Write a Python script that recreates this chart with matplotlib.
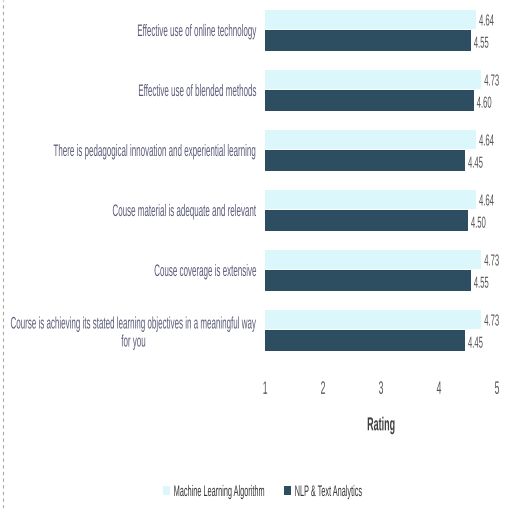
import matplotlib.pyplot as plt
from matplotlib.patheffects import AbstractPathEffect
from matplotlib.transforms import Affine2D
import numpy as np

# survey items, top to bottom
items = [
    "Effective use of online technology",
    "Effective use of blended methods",
    "There is pedagogical innovation and experiential learning",
    "Couse material is adequate and relevant",
    "Couse coverage is extensive",
    "Course is achieving its stated learning objectives in a meaningful way\nfor you",
]
ml_algo = [4.64, 4.73, 4.64, 4.64, 4.73, 4.73]
nlp_text = [4.55, 4.60, 4.45, 4.50, 4.55, 4.45]
ml_labels = ["4.64", "4.73", "4.64", "4.64", "4.73", "4.73"]
nlp_labels = ["4.55", "4.60", "4.45", "4.50", "4.55", "4.45"]
xticks = [1, 2, 3, 4, 5]

light = "#dcf7fb"
dark = "#2c4e60"
plt.rcParams['font.family'] = ['Liberation Sans', 'DejaVu Sans']

SQ = 0.48  # the original font is a very narrow one


class Squeeze(AbstractPathEffect):
    """draw text narrower: mode 'left' / 'center' keeps that edge of each line,
    a number keeps that display x fixed"""
    def __init__(self, sx, mode='left'):
        super().__init__()
        self.sx = sx
        self.mode = mode

    def draw_path(self, renderer, gc, tpath, affine, rgbFace=None):
        if self.mode == 'left':
            t = Affine2D().scale(self.sx, 1) + affine
        elif self.mode == 'center':
            ext = tpath.get_extents()
            cx = (ext.x0 + ext.x1) / 2
            t = Affine2D().translate(-cx, 0).scale(self.sx, 1).translate(cx, 0) + affine
        else:
            X = self.mode
            t = affine + Affine2D().translate(-X, 0).scale(self.sx, 1).translate(X, 0)
        renderer.draw_path(gc, tpath, t, rgbFace)


fig = plt.figure(figsize=(5.06, 5.08), dpi=100)
ax = fig.add_axes([265 / 506, 1 - 360 / 508, 232 / 506, 360 / 508])

y = np.arange(len(items))
ax.barh(y - 0.17, [v - 1 for v in ml_algo], left=1, height=0.32, color=light,
        label="Machine Learning Algorithm")
ax.barh(y + 0.17, [v - 1 for v in nlp_text], left=1, height=0.35, color=dark,
        label="NLP & Text Analytics")

for i in range(len(items)):
    ax.text(ml_algo[i] + 0.05, y[i] - 0.15, ml_labels[i], va='center', ha='left',
            fontsize=11.5, color="#555555", clip_on=False,
            path_effects=[Squeeze(SQ)])
    ax.text(nlp_text[i] + 0.05, y[i] + 0.22, nlp_labels[i], va='center', ha='left',
            fontsize=11.5, color="#555555", clip_on=False,
            path_effects=[Squeeze(SQ)])

ax.set_xlim(1, 5)
ax.set_ylim(5.5, -0.5)
ax.set_xticks(xticks)
ax.set_xticklabels([str(t) for t in xticks], fontsize=13, color="#555555")
ax.tick_params(axis='x', length=0, pad=15)
for t in ax.get_xticklabels():
    t.set_path_effects([Squeeze(SQ, 'center')])

pad_pt = 6
ax.set_yticks(y)
ax.set_yticklabels(items, fontsize=12, color="#5a5a78", multialignment='center',
                   linespacing=1.25)
ax.tick_params(axis='y', length=0, pad=pad_pt)
label_right = 265 - pad_pt * 100 / 72
for t in ax.get_yticklabels():
    t.set_path_effects([Squeeze(SQ, label_right)])

for s in ax.spines.values():
    s.set_visible(False)
ax.set_xlabel("Rating", fontsize=13.5, color="#404040", fontweight='bold',
              labelpad=14, path_effects=[Squeeze(SQ, 'center')])

# dashed border line on the left edge
fig.add_artist(plt.Line2D([3 / 506, 3 / 506], [0, 1], color="#aaaaaa",
                          linestyle=(0, (3, 3)), linewidth=0.8))

# two legend entries placed one by one, the text is squeezed
handles, names = ax.get_legend_handles_labels()
for h, n, x0 in zip(handles, names, [163, 284]):
    leg = fig.legend([h], [n], loc='center left', bbox_to_anchor=(x0 / 506, 1 - 492 / 508),
                     frameon=False, fontsize=11, handlelength=0.45, handleheight=0.6,
                     handletextpad=0.25, borderpad=0, borderaxespad=0,
                     labelcolor="#333333")
    for t in leg.get_texts():
        t.set_path_effects([Squeeze(SQ)])

fig.savefig("out.png", dpi=100)
